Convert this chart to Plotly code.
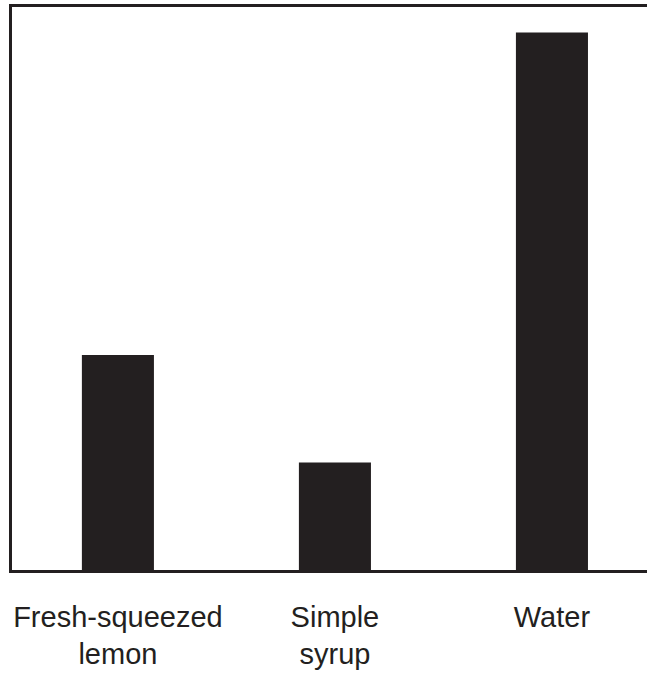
import plotly.graph_objects as go

categories = ["Fresh-squeezed<br>lemon", "Simple<br>syrup", "Water"]
values = [2, 1, 5]

fig = go.Figure(go.Bar(x=categories, y=values, marker=dict(color="#231f20", line=dict(width=0)), width=0.332))

fig.update_layout(
    width=647, height=676,
    margin=dict(l=12, r=0, t=7, b=106),
    paper_bgcolor="white", plot_bgcolor="white",
    showlegend=False,
    font=dict(family="Liberation Sans, Arial, sans-serif", size=29, color="#231f20"),
)
fig.update_xaxes(
    type="category", range=[-0.488, 2.438],
    showline=True, linecolor="#231f20", linewidth=2.5, mirror=True,
    showgrid=False, ticks="", ticklabelstandoff=19,
    tickfont=dict(size=29, color="#231f20"),
)
fig.update_yaxes(
    range=[0, 5.237], showline=True, linecolor="#231f20", linewidth=2.5, mirror=False,
    showgrid=False, showticklabels=False, ticks="", zeroline=False,
)
fig.write_html("out.html", config={"displayModeBar": False},
               post_script="document.body.style.margin='0';document.body.style.padding='0';")
